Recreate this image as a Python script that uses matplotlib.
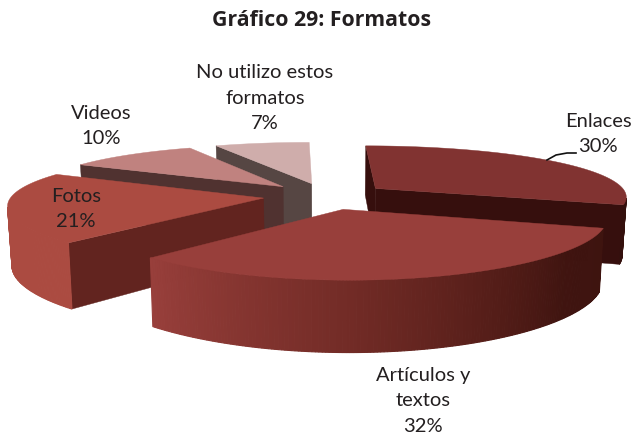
import numpy as np
import matplotlib
matplotlib.use("Agg")
import matplotlib.pyplot as plt
from matplotlib.patches import Polygon

categories = ["Enlaces", "Artículos y\ntextos", "Fotos", "Videos", "No utilizo estos\nformatos"]
values = [30, 32, 21, 10, 7]
title = "Gráfico 29: Formatos"

top_colors = ["#813331", "#983f3b", "#ab4b41", "#c0827f", "#cfadab"]
radial_colors = ["#360f0d", "#4a1a16", "#62241f", "#503230", "#564643"]
label_pos = [(598, 134), (423, 401), (76, 209), (101, 126), (265, 98)]
draw_order = [4, 3, 2, 0, 1]

# projection of the exploded pie
CX, CY, RX, RY = 326.0, 196.0, 252.0, 52.7
KX, KY, DEPTH, KD = 0.13, 0.179, 58.0, 0.16
SHEAR = 4.0
EXPLODE = 0.25

def project(X, Y, bottom=False):
    X, Y = np.asarray(X, float), np.asarray(Y, float)
    sx = CX + RX * X / (1 - KX * Y) + SHEAR * Y
    sy = CY + RY * Y / (1 - KY * Y)
    if bottom:
        sy = sy + DEPTH / (1 - KD * Y)
        sx = sx - 0.014 * (sx - CX)
    return sx, sy

def shade(theta):
    return np.interp(theta, [100, 130, 180, 223, 360], [0.40, 0.42, 0.75, 1.0, 1.0])

def darken(color, f):
    rgb = np.array(matplotlib.colors.to_rgb(color))
    return tuple(np.clip(rgb * np.array([f, f ** 1.3, f ** 1.5]), 0, 1))

def area(x, y):
    return 0.5 * np.sum(x * np.roll(y, -1) - np.roll(x, -1) * y)

fig = plt.figure(figsize=(6.33, 4.38), dpi=100, facecolor="white")
ax = fig.add_axes([0, 0, 1, 1])
ax.set_xlim(0, 633)
ax.set_ylim(438, 0)
ax.axis("off")

edges = np.concatenate([[0], np.cumsum(values)]) / np.sum(values) * 360.0

for i in draw_order:
    t0, t1 = edges[i], edges[i + 1]
    layer = draw_order.index(i) * 3
    mid = np.radians((t0 + t1) / 2)
    ox, oy = EXPLODE * np.sin(mid), -EXPLODE * np.cos(mid)
    th = np.linspace(t0, t1, int((t1 - t0) * 1.5) + 2)
    rad = np.radians(th)
    X, Y = ox + np.sin(rad), oy - np.cos(rad)
    tx, ty = project(X, Y)
    bx, by = project(X, Y, bottom=True)
    ax_t, ay_t = project(ox, oy)
    ax_b, ay_b = project(ox, oy, bottom=True)

    # radial faces
    for (xe, ye, xb, yb, sign) in ((tx[0], ty[0], bx[0], by[0], -1), (tx[-1], ty[-1], bx[-1], by[-1], 1)):
        qx = np.array([ax_t, xe, xb, ax_b])
        qy = np.array([ay_t, ye, yb, ay_b])
        if sign * area(qx, qy) > 0:
            ax.add_patch(Polygon(np.c_[qx, qy], closed=True, fc=radial_colors[i],
                                 ec=radial_colors[i], lw=0.3, zorder=1 + layer))
    # outer wall
    for k in range(len(th) - 1):
        qx = np.array([tx[k], tx[k + 1], bx[k + 1], bx[k]])
        qy = np.array([ty[k], ty[k + 1], by[k + 1], by[k]])
        if area(qx, qy) < 0:
            c = darken(top_colors[i], shade((th[k] + th[k + 1]) / 2))
            ax.add_patch(Polygon(np.c_[qx, qy], closed=True, fc=c, ec=c, lw=0.8,
                                 zorder=2 + layer))
    # top face
    ax.add_patch(Polygon(np.c_[np.r_[ax_t, tx], np.r_[ay_t, ty]], closed=True,
                         fc=top_colors[i], ec=top_colors[i], lw=0.3, zorder=3 + layer))

label_font = {"family": "Lato", "fontsize": 14.5, "color": "#231f20", "zorder": 30,
              "ha": "center", "va": "center", "linespacing": 1.62}
for name, val, (x, y) in zip(categories, values, label_pos):
    ax.text(x, y, f"{name}\n{val}%", **label_font)

ax.plot([547, 556, 567, 576], [160, 155, 153, 153], color="#111111", lw=1.2, zorder=31)
ax.text(322, 20, title, family="Open Sans", fontweight="bold", fontsize=15.3,
        color="#231f20", ha="center", va="center", zorder=30)

fig.savefig("out.png", dpi=100, facecolor="white")
